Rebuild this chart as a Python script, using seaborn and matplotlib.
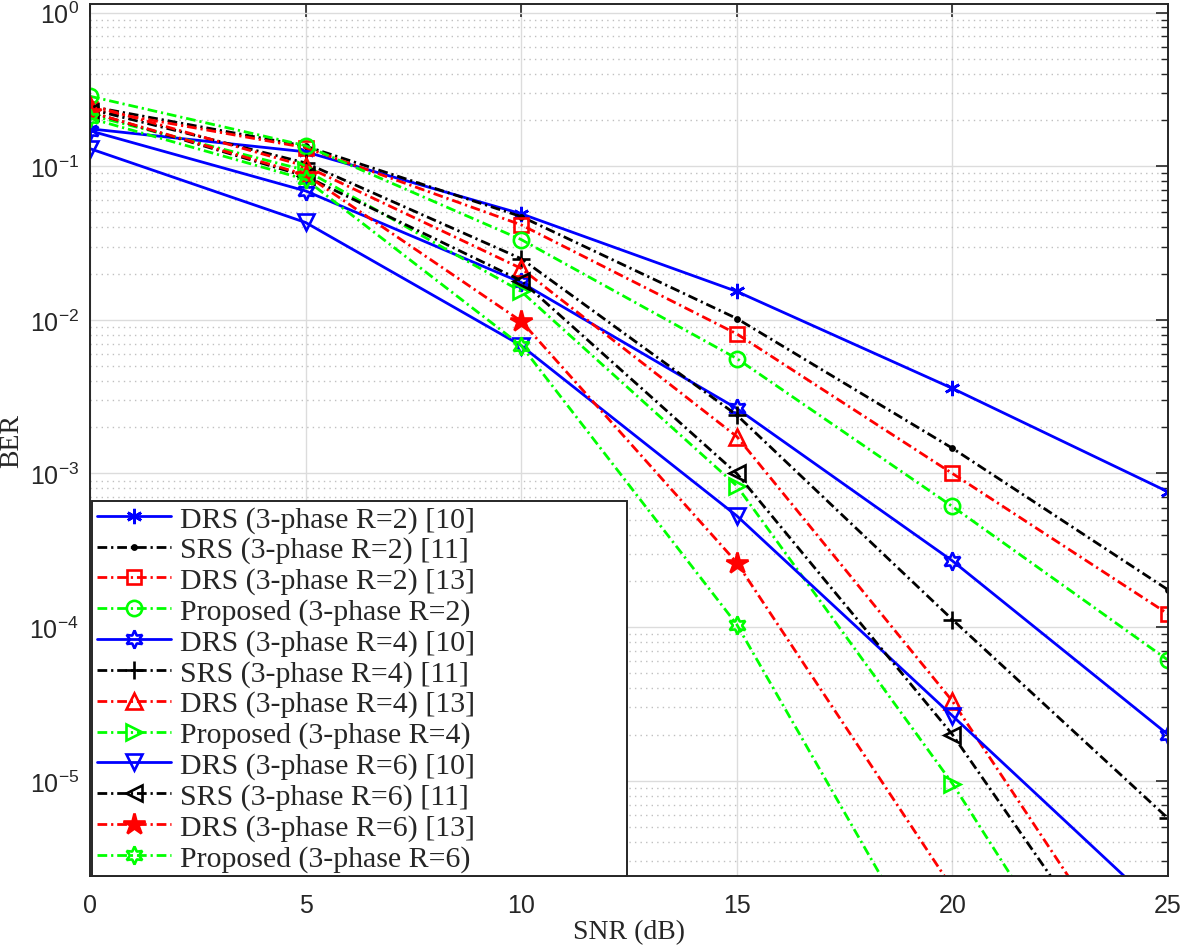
import numpy as np
import pandas as pd
import matplotlib
matplotlib.use("Agg")
import matplotlib.pyplot as plt
import seaborn as sns

sns.set_theme(style="white")
plt.rcParams['font.family'] = ['Liberation Sans', 'DejaVu Sans']
plt.rcParams['mathtext.fontset'] = 'custom'
plt.rcParams['mathtext.rm'] = 'Liberation Sans'
plt.rcParams['mathtext.it'] = 'Liberation Sans'

snr = [0, 5, 10, 15, 20, 25]

drs2_10 = [0.175, 0.124, 0.049, 0.0153, 0.00358, 7.6e-4]
srs2_11 = [0.245, 0.135, 0.047, 0.0102, 0.00146, 1.75e-4]
drs2_13 = [0.235, 0.132, 0.0415, 0.0081, 0.00100, 1.22e-4]
prop2 = [0.285, 0.136, 0.0333, 0.0056, 6.1e-4, 6.1e-5]
drs4_10 = [0.17, 0.069, 0.0175, 0.00265, 2.7e-4, 2.0e-5]
srs4_11 = [0.235, 0.105, 0.025, 0.0024, 1.12e-4, 5.7e-6]
drs4_13 = [0.25, 0.100, 0.0216, 0.00174, 3.3e-5, 2.5e-7]
prop4 = [0.215, 0.094, 0.0153, 8.3e-4, 9.6e-6, 6e-8]
drs6_10 = [0.13, 0.043, 0.0068, 5.3e-4, 2.65e-5, 1.3e-6]
srs6_11 = [0.225, 0.086, 0.018, 0.0010, 2.0e-5, 1.9e-7]
drs6_13 = [0.225, 0.088, 0.0098, 2.63e-4, 2.0e-6, 1.5e-8]
prop6 = [0.205, 0.082, 0.0068, 1.04e-4, 3.7e-7, 1.3e-9]

labels = [
    "DRS (3-phase R=2) [10]",
    "SRS (3-phase R=2) [11]",
    "DRS (3-phase R=2) [13]",
    "Proposed (3-phase R=2)",
    "DRS (3-phase R=4) [10]",
    "SRS (3-phase R=4) [11]",
    "DRS (3-phase R=4) [13]",
    "Proposed (3-phase R=4)",
    "DRS (3-phase R=6) [10]",
    "SRS (3-phase R=6) [11]",
    "DRS (3-phase R=6) [13]",
    "Proposed (3-phase R=6)",
]
series = [drs2_10, srs2_11, drs2_13, prop2, drs4_10, srs4_11, drs4_13, prop4,
          drs6_10, srs6_11, drs6_13, prop6]

BLUE, BLACK, RED, GREEN = (0, 0, 1), (0, 0, 0), (1, 0, 0), (0, 1, 0)
dashdot = (0, (3.5, 1.4, 0.8, 1.4))
styles = [
    dict(color=BLUE, ls='-', marker=(6, 2, 0), ms=11, fill=False),
    dict(color=BLACK, ls=dashdot, marker='.', ms=6, fill=True),
    dict(color=RED, ls=dashdot, marker='s', ms=10, fill=False),
    dict(color=GREEN, ls=dashdot, marker='o', ms=11, fill=False),
    dict(color=BLUE, ls='-', marker=(6, 1, 0), ms=13, fill=False),
    dict(color=BLACK, ls=dashdot, marker='+', ms=13, fill=False),
    dict(color=RED, ls=dashdot, marker='^', ms=12, fill=False),
    dict(color=GREEN, ls=dashdot, marker='>', ms=12, fill=False),
    dict(color=BLUE, ls='-', marker='v', ms=12, fill=False),
    dict(color=BLACK, ls=dashdot, marker='<', ms=12, fill=False),
    dict(color=RED, ls=dashdot, marker='*', ms=16, fill=True),
    dict(color=GREEN, ls=dashdot, marker=(6, 1, 0), ms=13, fill=False),
]

fig = plt.figure(figsize=(11.81, 9.53), dpi=100)
ax = fig.add_axes([0.0762, 0.0797, 0.9128, 0.9153])

for lab, vals, st in zip(labels, series, styles):
    df = pd.DataFrame({"SNR": snr, "BER": vals})
    sns.lineplot(data=df, x="SNR", y="BER", ax=ax, label=lab,
                 color=st['color'], linestyle=st['ls'], linewidth=2.0,
                 marker=st['marker'], markersize=st['ms'],
                 markeredgecolor=st['color'], markeredgewidth=1.9,
                 markerfacecolor=st['color'] if st['fill'] else 'none',
                 errorbar=None, sort=False)

ax.set_yscale('log')
ax.set_xlim(0, 25)
ax.set_ylim(2.4e-6, 1.14)
ax.set_xticks([0, 5, 10, 15, 20, 25])
ax.set_yticks([1e-5, 1e-4, 1e-3, 1e-2, 1e-1, 1e0])
ax.yaxis.set_minor_locator(matplotlib.ticker.LogLocator(base=10, subs=np.arange(2, 10), numticks=20))
ax.yaxis.set_minor_formatter(matplotlib.ticker.NullFormatter())

ax.grid(True, which='major', color='#dcdcdc', linewidth=1.0, linestyle='-')
ax.grid(True, which='minor', axis='y', color='#c0c0c0', linewidth=1.0, linestyle=(0, (1, 3)))
ax.set_axisbelow(True)

ax.tick_params(axis='both', which='both', direction='in', top=True, right=True,
               labelsize=18, colors='#262626')
ax.tick_params(axis='both', which='major', length=9, width=1.2)
ax.tick_params(axis='x', which='major', pad=12)
ax.tick_params(axis='y', which='major', pad=8)
ax.tick_params(axis='y', which='minor', length=5, width=1.0)
for sp in ax.spines.values():
    sp.set_color('#262626')
    sp.set_linewidth(1.4)

ax.set_xlabel("SNR (dB)", family='Liberation Serif', fontsize=20, color='#262626', labelpad=2)
ax.set_ylabel("BER", family='Liberation Serif', fontsize=20, color='#262626', labelpad=4)

leg = ax.legend(loc='lower left', bbox_to_anchor=(0.002, 0.0, 0.496, 0.4), mode='expand',
                borderaxespad=0,
                prop={'family': 'Liberation Serif', 'size': 21.5},
                frameon=True, fancybox=False, framealpha=1, edgecolor='#262626',
                handlelength=2.5, handletextpad=0.3, labelspacing=0.12,
                borderpad=0.15, markerscale=1.0)
leg.get_frame().set_linewidth(1.4)

fig.savefig("out.png", dpi=100)
